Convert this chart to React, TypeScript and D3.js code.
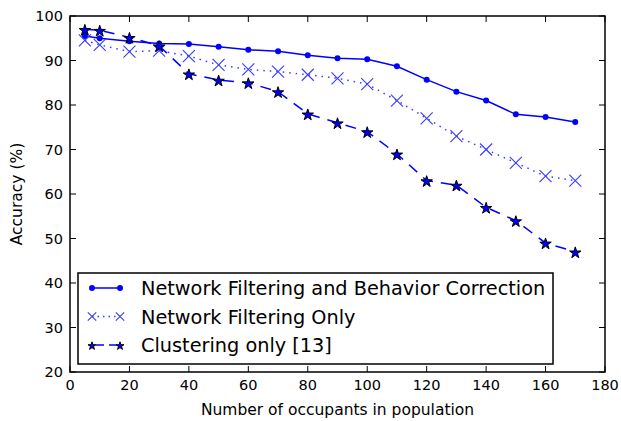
import { useEffect, useRef } from "react"
import * as d3 from "d3"

const occupants = [5, 10, 20, 30, 40, 50, 60, 70, 80, 90, 100, 110, 120, 130, 140, 150, 160, 170]
const behaviorCorrection = [95.5, 95, 94.3, 93.8, 93.7, 93.1, 92.4, 92.1, 91.2, 90.5, 90.3, 88.7, 85.7, 83, 81, 77.9, 77.3, 76.2]
const filteringOnly = [94.5, 93.5, 92, 92.2, 91, 89, 88, 87.5, 86.8, 86, 84.7, 81, 77, 73, 70, 67, 64, 63]
const clusteringOnly = [97, 96.8, 95.2, 93.3, 87, 85.6, 85, 83, 78, 76, 74, 69, 63, 62, 57, 54, 49, 47]
const seriesNames = [
  "Network Filtering and Behavior Correction",
  "Network Filtering Only",
  "Clustering only [13]",
]
const xTicks = [0, 20, 40, 60, 80, 100, 120, 140, 160, 180]
const yTicks = [20, 30, 40, 50, 60, 70, 80, 90, 100]

const W = 621
const H = 421
const margin = { left: 70, right: 16, top: 16, bottom: 49 }
const FONT = "DejaVu Sans, sans-serif"

const App = () => {
  const ref = useRef<SVGSVGElement>(null)

  useEffect(() => {
    const svg = d3.select(ref.current)
    svg.selectAll("*").remove()

    const x = d3.scaleLinear().domain([0, 180]).range([margin.left, W - margin.right])
    const y = d3.scaleLinear().domain([20, 100]).range([H - margin.bottom, margin.top])
    const [x0, x1] = x.range()
    const [y0, y1] = y.range()
    const tick = 6

    const g = svg.append("g")

    // ticks, inward on all sides
    xTicks.forEach(t => {
      g.append("line").attr("x1", x(t)).attr("x2", x(t)).attr("y1", y0).attr("y2", y0 - tick).attr("stroke", "#000")
      g.append("line").attr("x1", x(t)).attr("x2", x(t)).attr("y1", y1).attr("y2", y1 + tick).attr("stroke", "#000")
      g.append("text").attr("x", x(t)).attr("y", y0 + 18).attr("text-anchor", "middle")
        .attr("font-family", FONT).attr("font-size", 14.5).text(t)
    })
    yTicks.forEach(t => {
      g.append("line").attr("x1", x0).attr("x2", x0 + tick).attr("y1", y(t)).attr("y2", y(t)).attr("stroke", "#000")
      g.append("line").attr("x1", x1).attr("x2", x1 - tick).attr("y1", y(t)).attr("y2", y(t)).attr("stroke", "#000")
      g.append("text").attr("x", x0 - 7).attr("y", y(t) + 5).attr("text-anchor", "end")
        .attr("font-family", FONT).attr("font-size", 14.5).text(t)
    })

    g.append("text").attr("x", (x0 + x1) / 2).attr("y", H - 6).attr("text-anchor", "middle")
      .attr("font-family", FONT).attr("font-size", 15.5).text("Number of occupants in population")
    g.append("text").attr("transform", `translate(22,${(y0 + y1) / 2}) rotate(-90)`)
      .attr("text-anchor", "middle").attr("font-family", FONT).attr("font-size", 15.5).text("Accuracy (%)")

    const line = d3.line<number>().x((d, i) => x(occupants[i])).y(d => y(d))

    const drawDot = (sel, cx, cy, k = 1) =>
      sel.append("circle").attr("cx", cx).attr("cy", cy).attr("r", 3).attr("fill", "#0000ff")
    const drawX = (sel, cx, cy, k = 1) => {
      const s = 6 * k
      sel.append("path").attr("d", `M${cx - s},${cy - s}L${cx + s},${cy + s}M${cx - s},${cy + s}L${cx + s},${cy - s}`)
        .attr("stroke", "#3a3aff").attr("stroke-width", 1.1).attr("fill", "none")
    }
    const drawStar = (sel, cx, cy, k = 1) =>
      sel.append("path").attr("d", d3.symbol().type(d3.symbolStar).size(40 * k * k)())
        .attr("transform", `translate(${cx},${cy + 1})`)
        .attr("fill", "#0000ff").attr("stroke", "#000").attr("stroke-width", 1)

    const series = [
      { values: behaviorCorrection, color: "#0000ff", dash: null, width: 1.5, mark: drawDot },
      { values: filteringOnly, color: "#3a3aff", dash: "1.5,5", width: 1.5, mark: drawX },
      { values: clusteringOnly, color: "#0000ff", dash: "11,8", width: 1.5, mark: drawStar },
    ]

    series.forEach(s => {
      g.append("path").attr("d", line(s.values)).attr("fill", "none")
        .attr("stroke", s.color).attr("stroke-width", s.width)
        .attr("stroke-dasharray", s.dash)
      s.values.forEach((v, i) => s.mark(g, x(occupants[i]), y(v)))
    })

    // frame
    g.append("rect").attr("x", x0).attr("y", y1).attr("width", x1 - x0).attr("height", y0 - y1)
      .attr("fill", "none").attr("stroke", "#000").attr("stroke-width", 1.5)

    // legend
    const lg = g.append("g")
    lg.append("rect").attr("x", 78).attr("y", 273).attr("width", 475).attr("height", 91)
      .attr("fill", "#fff").attr("stroke", "#000").attr("stroke-width", 1.5)
    series.forEach((s, i) => {
      const ly = 288 + i * 28.5
      lg.append("line").attr("x1", 92).attr("x2", 120).attr("y1", ly).attr("y2", ly)
        .attr("stroke", s.color).attr("stroke-width", s.width)
        .attr("stroke-dasharray", i === 1 ? "1.5,4" : i === 2 ? "8,5" : null)
        .attr("stroke-dashoffset", i === 2 ? -4 : 0)
      s.mark(lg, 92, ly, 0.7)
      s.mark(lg, 120, ly, 0.7)
      lg.append("text").attr("x", 141).attr("y", ly + 7).attr("font-family", FONT)
        .attr("font-size", 19.3).text(seriesNames[i])
    })
  }, [])

  return <svg ref={ref} width={W} height={H} style={{ position: "absolute", left: 0, top: 0 }} />
}

export default App
